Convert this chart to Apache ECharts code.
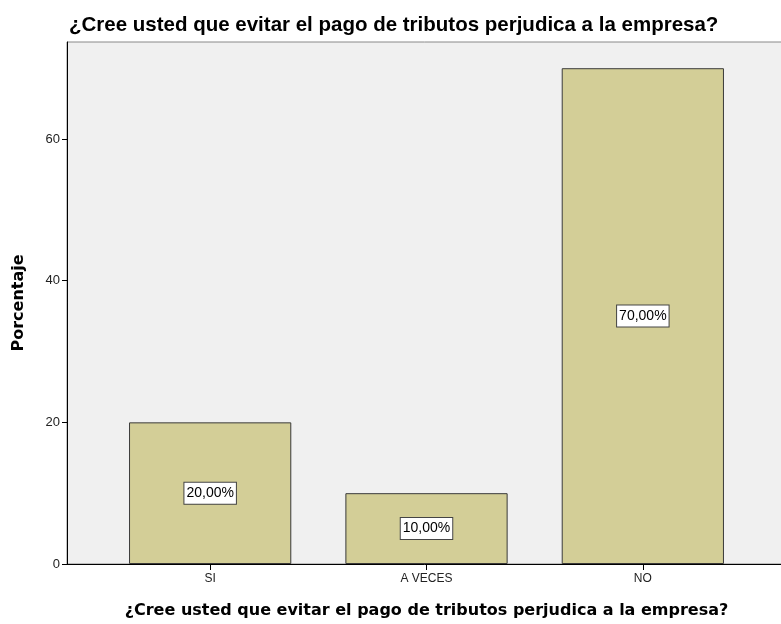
<!DOCTYPE html>
<html>
<head>
<meta charset="utf-8">
<script src="https://cdn.jsdelivr.net/npm/echarts@6/dist/echarts.min.js"></script>
<style>html,body{margin:0;padding:0;background:#fff}#c{width:781px;height:624px}</style>
</head>
<body>
<div id="c"></div>
<script>
const titleText = '¿Cree usted que evitar el pago de tributos perjudica a la empresa?';
const categories = ['SI', 'A VECES', 'NO'];
const percentages = [20, 10, 70];
const yTicks = [0, 20, 40, 60];
const yAxisName = 'Porcentaje';
const xAxisName = '¿Cree usted que evitar el pago de tributos perjudica a la empresa?';

const yMax = 73.7;
const chart = echarts.init(document.getElementById('c'), null, {renderer: 'canvas'});
chart.setOption({
  animation: false,
  backgroundColor: '#ffffff',
  title: {
    text: titleText, left: 69, top: 15, padding: 0,
    textStyle: {fontFamily: 'Liberation Sans', fontWeight: 'bold', fontSize: 20.5, color: '#000'}
  },
  grid: [
    {left: 67, right: -5, top: 42, bottom: 60, show: true, backgroundColor: '#f0f0f0', borderColor: '#888', borderWidth: 1, outerBoundsMode: 'none', containLabel: false},
    {left: 102, right: 30, top: 42, bottom: 60, show: false, outerBoundsMode: 'none', containLabel: false}
  ],
  xAxis: [
    {gridIndex: 0, type: 'value', min: 0, max: 1, axisLine: {show: true, lineStyle: {color: '#000', width: 1}},
     axisTick: {show: false}, axisLabel: {show: false}, splitLine: {show: false},
     name: xAxisName, nameLocation: 'middle', nameGap: 39,
     nameTextStyle: {fontFamily: 'DejaVu Sans', fontWeight: 'bold', fontSize: 16, color: '#000'}},
    {gridIndex: 1, type: 'category', data: categories, axisLine: {show: false},
     axisTick: {show: true, alignWithLabel: true, length: 6, lineStyle: {color: '#000'}},
     axisLabel: {fontFamily: 'Liberation Sans', fontSize: 12, color: '#222', margin: 9}}
  ],
  yAxis: [
    {gridIndex: 0, type: 'value', min: 0, max: yMax,
     axisLine: {show: true, lineStyle: {color: '#000', width: 1}},
     axisTick: {show: true, length: 5, customValues: yTicks, lineStyle: {color: '#000'}},
     axisLabel: {customValues: yTicks, fontFamily: 'Liberation Sans', fontSize: 13, color: '#222', margin: 7},
     splitLine: {show: false},
     name: yAxisName, nameLocation: 'middle', nameGap: 40,
     nameTextStyle: {fontFamily: 'DejaVu Sans', fontWeight: 'bold', fontSize: 16, color: '#000'}},
    {gridIndex: 1, type: 'value', min: 0, max: yMax, show: false, splitLine: {show: false}}
  ],
  series: [{
    type: 'bar', xAxisIndex: 1, yAxisIndex: 1, data: percentages,
    barCategoryGap: '25%',
    itemStyle: {color: '#d3ce97', borderColor: '#3a3a3a', borderWidth: 1},
    label: {
      show: true, position: 'inside',
      formatter: p => p.value.toFixed(2).replace('.', ',') + '%',
      fontFamily: 'Liberation Sans', fontSize: 14, color: '#000',
      backgroundColor: '#fff', borderColor: '#444', borderWidth: 1, padding: [4, 2, 3, 2]
    }
  }]
});
</script>
</body>
</html>
